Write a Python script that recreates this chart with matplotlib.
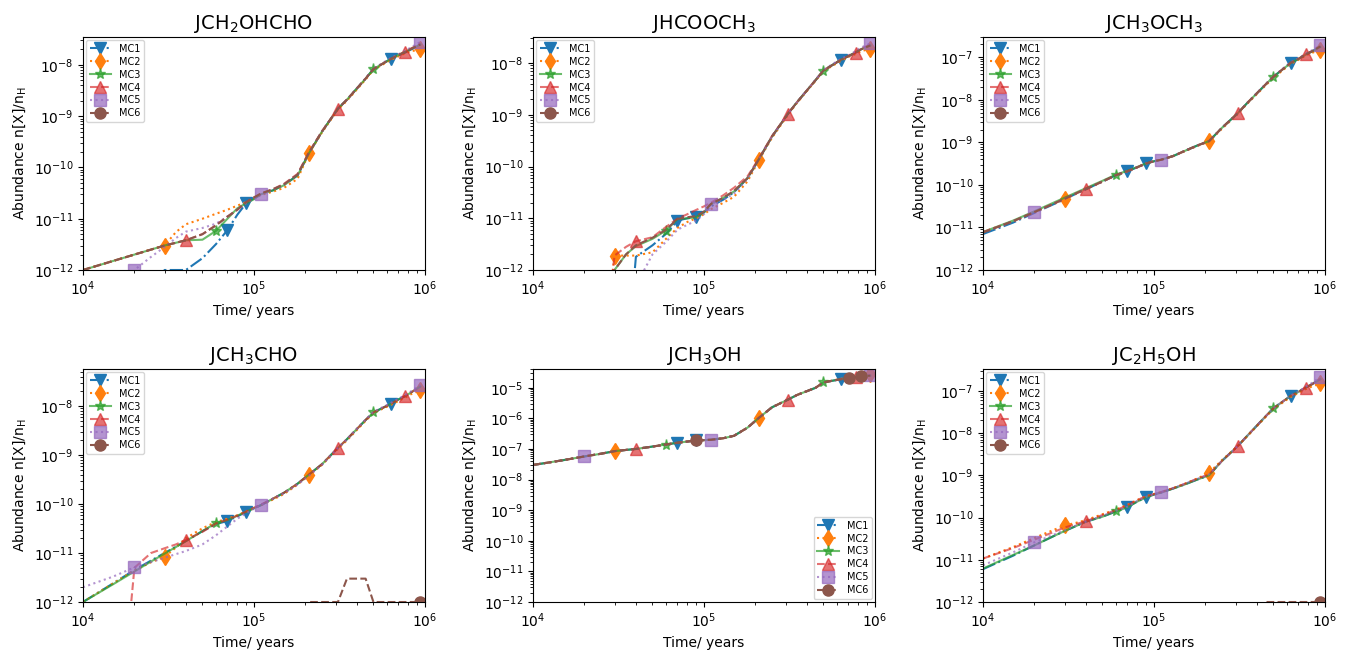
import matplotlib
matplotlib.use("Agg")
import matplotlib.pyplot as plt

# time grid (years)
T = [1.0e4, 1.5e4, 2.0e4, 2.5e4, 3.0e4, 3.5e4, 4.0e4, 5.0e4, 6.0e4, 7.0e4, 8.0e4, 9.0e4,
     1.0e5, 1.1e5, 1.3e5, 1.5e5, 1.8e5, 2.1e5, 2.5e5, 3.1e5, 3.5e5, 4.5e5, 5.0e5, 6.3e5,
     7.1e5, 7.7e5, 8.3e5, 9.4e5]

MODELS = ["MC1", "MC2", "MC3", "MC4", "MC5", "MC6"]

# ---- JCH2OHCHO
CH2OHCHO_MC1 = [1e-14, 1e-14, 1e-14, 1e-14, 1e-12, 1e-12, 1e-12, 1.7e-12, 3.2e-12, 6.0e-12, 1.2e-11, 2.0e-11, 2.5e-11, 3.0e-11, 3.6e-11, 4.6e-11, 7.0e-11, 1.9e-10, 5.0e-10, 1.4e-9, 2.1e-9, 5.4e-9, 8.3e-9, 1.3e-8, 1.55e-8, 1.75e-8, 2.0e-8, 2.4e-8]
CH2OHCHO_MC2 = [1.0e-12, 1.5e-12, 2.0e-12, 2.5e-12, 3.0e-12, 5.5e-12, 7.8e-12, 1.0e-11, 1.25e-11, 1.5e-11, 1.8e-11, 2.1e-11, 2.5e-11, 2.9e-11, 3.4e-11, 4.0e-11, 6.0e-11, 1.9e-10, 4.8e-10, 1.35e-9, 2.0e-9, 5.2e-9, 8.0e-9, 1.25e-8, 1.5e-8, 1.7e-8, 1.85e-8, 2.0e-8]
CH2OHCHO_MC3 = [1.0e-12, 1.5e-12, 2.0e-12, 2.5e-12, 3.0e-12, 3.4e-12, 3.8e-12, 3.9e-12, 5.8e-12, 1.0e-11, 1.6e-11, 2.0e-11, 2.4e-11, 3.0e-11, 3.6e-11, 4.5e-11, 7.0e-11, 1.9e-10, 5.0e-10, 1.4e-9, 2.1e-9, 5.4e-9, 8.3e-9, 1.3e-8, 1.6e-8, 1.8e-8, 2.05e-8, 2.5e-8]
CH2OHCHO_MC4 = [1.0e-12, 1.5e-12, 2.0e-12, 2.5e-12, 3.0e-12, 3.4e-12, 3.8e-12, 5.0e-12, 7.5e-12, 1.1e-11, 1.5e-11, 2.1e-11, 2.6e-11, 3.1e-11, 3.8e-11, 4.8e-11, 7.5e-11, 2.0e-10, 5.1e-10, 1.4e-9, 2.1e-9, 5.4e-9, 8.3e-9, 1.3e-8, 1.6e-8, 1.8e-8, 2.1e-8, 2.6e-8]
CH2OHCHO_MC5 = [1e-14, 1e-14, 1.0e-12, 1.8e-12, 2.8e-12, 4.2e-12, 5.6e-12, 6.6e-12, 8.0e-12, 1.1e-11, 1.5e-11, 2.0e-11, 2.5e-11, 3.0e-11, 3.7e-11, 4.6e-11, 7.2e-11, 1.9e-10, 5.0e-10, 1.4e-9, 2.1e-9, 5.5e-9, 8.5e-9, 1.35e-8, 1.65e-8, 1.9e-8, 2.2e-8, 2.8e-8]
CH2OHCHO_MC6 = [1.0e-12, 1.5e-12, 2.0e-12, 2.5e-12, 3.0e-12, 3.4e-12, 3.8e-12, 5.0e-12, 7.4e-12, 1.1e-11, 1.5e-11, 2.1e-11, 2.6e-11, 3.1e-11, 3.8e-11, 4.7e-11, 7.3e-11, 1.95e-10, 5.0e-10, 1.4e-9, 2.1e-9, 5.4e-9, 8.3e-9, 1.3e-8, 1.6e-8, 1.8e-8, 2.05e-8, 2.5e-8]

# ---- JHCOOCH3
HCOOCH3_MC1 = [1e-14, 1e-14, 1e-14, 1e-14, 1e-14, 1e-14, 1.8e-12, 3.0e-12, 5.0e-12, 9.0e-12, 1.0e-11, 1.05e-11, 1.3e-11, 1.7e-11, 2.3e-11, 3.2e-11, 6.0e-11, 1.4e-10, 3.8e-10, 1.05e-9, 1.75e-9, 4.7e-9, 7.2e-9, 1.15e-8, 1.4e-8, 1.6e-8, 1.85e-8, 2.2e-8]
HCOOCH3_MC2 = [1e-14, 1e-14, 1e-14, 1e-14, 1.9e-12, 1.9e-12, 1.9e-12, 2.2e-12, 4.0e-12, 6.5e-12, 8.5e-12, 1.0e-11, 1.2e-11, 1.5e-11, 2.0e-11, 2.6e-11, 5.2e-11, 1.35e-10, 3.6e-10, 1.0e-9, 1.7e-9, 4.6e-9, 7.0e-9, 1.1e-8, 1.35e-8, 1.5e-8, 1.7e-8, 1.9e-8]
HCOOCH3_MC3 = [1e-14, 1e-14, 1e-14, 1e-14, 1.0e-12, 2.0e-12, 2.9e-12, 4.0e-12, 5.8e-12, 9.6e-12, 1.0e-11, 1.05e-11, 1.3e-11, 1.9e-11, 2.5e-11, 3.3e-11, 6.0e-11, 1.4e-10, 3.8e-10, 1.05e-9, 1.75e-9, 4.7e-9, 7.2e-9, 1.15e-8, 1.4e-8, 1.6e-8, 1.85e-8, 2.2e-8]
HCOOCH3_MC4 = [1e-14, 1e-14, 1e-14, 1e-14, 1.9e-12, 2.8e-12, 3.6e-12, 4.3e-12, 6.8e-12, 9.8e-12, 1.2e-11, 1.45e-11, 1.7e-11, 2.0e-11, 2.8e-11, 3.9e-11, 6.5e-11, 1.45e-10, 3.9e-10, 1.05e-9, 1.75e-9, 4.7e-9, 7.2e-9, 1.15e-8, 1.4e-8, 1.6e-8, 1.9e-8, 2.3e-8]
HCOOCH3_MC5 = [1e-14, 1e-14, 1e-14, 1e-14, 1e-14, 1e-14, 5e-13, 2.0e-12, 3.5e-12, 6.0e-12, 7.5e-12, 9.0e-12, 1.2e-11, 1.9e-11, 2.3e-11, 3.0e-11, 5.8e-11, 1.4e-10, 3.8e-10, 1.05e-9, 1.75e-9, 4.8e-9, 7.4e-9, 1.2e-8, 1.45e-8, 1.7e-8, 2.0e-8, 2.4e-8]
HCOOCH3_MC6 = [1e-14, 1e-14, 1e-14, 1e-14, 1.0e-12, 2.0e-12, 3.0e-12, 4.2e-12, 6.0e-12, 9.7e-12, 1.05e-11, 1.1e-11, 1.35e-11, 1.9e-11, 2.5e-11, 3.4e-11, 6.0e-11, 1.4e-10, 3.8e-10, 1.05e-9, 1.75e-9, 4.7e-9, 7.2e-9, 1.15e-8, 1.4e-8, 1.6e-8, 1.85e-8, 2.2e-8]

# ---- JCH3OCH3
CH3OCH3_MC1 = [7.0e-12, 1.3e-11, 2.2e-11, 3.3e-11, 4.6e-11, 6.2e-11, 7.9e-11, 1.2e-10, 1.7e-10, 2.1e-10, 2.6e-10, 3.2e-10, 3.6e-10, 3.9e-10, 4.8e-10, 6.2e-10, 8.5e-10, 1.07e-9, 2.2e-9, 4.9e-9, 8.3e-9, 2.3e-8, 3.5e-8, 7.4e-8, 9.5e-8, 1.17e-7, 1.35e-7, 1.75e-7]
CH3OCH3_MC2 = [7.8e-12, 1.4e-11, 2.3e-11, 3.4e-11, 4.6e-11, 6.2e-11, 7.9e-11, 1.2e-10, 1.7e-10, 2.1e-10, 2.6e-10, 3.2e-10, 3.6e-10, 3.9e-10, 4.8e-10, 6.1e-10, 8.3e-10, 1.05e-9, 2.1e-9, 4.7e-9, 8.0e-9, 2.2e-8, 3.3e-8, 7.0e-8, 9.0e-8, 1.1e-7, 1.25e-7, 1.5e-7]
CH3OCH3_MC3 = [7.8e-12, 1.45e-11, 2.4e-11, 3.6e-11, 5.0e-11, 6.6e-11, 8.4e-11, 1.25e-10, 1.75e-10, 2.15e-10, 2.65e-10, 3.2e-10, 3.6e-10, 3.9e-10, 4.8e-10, 6.2e-10, 8.5e-10, 1.07e-9, 2.2e-9, 4.9e-9, 8.3e-9, 2.3e-8, 3.5e-8, 7.3e-8, 9.4e-8, 1.15e-7, 1.33e-7, 1.75e-7]
CH3OCH3_MC4 = [7.8e-12, 1.4e-11, 2.3e-11, 3.4e-11, 4.7e-11, 6.3e-11, 8.0e-11, 1.2e-10, 1.7e-10, 2.1e-10, 2.6e-10, 3.2e-10, 3.6e-10, 3.9e-10, 4.8e-10, 6.2e-10, 8.5e-10, 1.07e-9, 2.2e-9, 4.9e-9, 8.3e-9, 2.3e-8, 3.5e-8, 7.4e-8, 9.5e-8, 1.17e-7, 1.35e-7, 1.8e-7]
CH3OCH3_MC5 = [7.6e-12, 1.4e-11, 2.3e-11, 3.4e-11, 4.7e-11, 6.3e-11, 8.0e-11, 1.2e-10, 1.7e-10, 2.1e-10, 2.6e-10, 3.2e-10, 3.6e-10, 3.9e-10, 4.8e-10, 6.2e-10, 8.5e-10, 1.07e-9, 2.2e-9, 4.9e-9, 8.4e-9, 2.35e-8, 3.6e-8, 7.6e-8, 9.8e-8, 1.2e-7, 1.42e-7, 1.9e-7]
CH3OCH3_MC6 = [7.6e-12, 1.4e-11, 2.3e-11, 3.4e-11, 4.7e-11, 6.3e-11, 8.0e-11, 1.2e-10, 1.7e-10, 2.1e-10, 2.6e-10, 3.2e-10, 3.6e-10, 3.9e-10, 4.8e-10, 6.2e-10, 8.5e-10, 1.07e-9, 2.2e-9, 4.9e-9, 8.3e-9, 2.3e-8, 3.5e-8, 7.4e-8, 9.5e-8, 1.17e-7, 1.35e-7, 1.8e-7]

# ---- JCH3CHO
CH3CHO_MC1 = [1.0e-12, 2.4e-12, 4.5e-12, 7.0e-12, 1.0e-11, 1.35e-11, 1.75e-11, 2.8e-11, 3.9e-11, 4.5e-11, 5.6e-11, 6.9e-11, 8.2e-11, 9.5e-11, 1.3e-10, 1.7e-10, 2.6e-10, 4.0e-10, 6.5e-10, 1.4e-9, 2.1e-9, 5.2e-9, 7.4e-9, 1.1e-8, 1.4e-8, 1.6e-8, 1.9e-8, 2.5e-8]
CH3CHO_MC2 = [1.0e-12, 2.4e-12, 4.4e-12, 6.5e-12, 8.3e-12, 1.3e-11, 2.0e-11, 3.2e-11, 4.3e-11, 5.0e-11, 5.9e-11, 7.0e-11, 8.2e-11, 9.4e-11, 1.25e-10, 1.6e-10, 2.5e-10, 3.9e-10, 6.3e-10, 1.35e-9, 2.0e-9, 5.0e-9, 7.2e-9, 1.05e-8, 1.3e-8, 1.5e-8, 1.75e-8, 2.1e-8]
CH3CHO_MC3 = [1.0e-12, 2.3e-12, 4.2e-12, 6.7e-12, 9.7e-12, 1.33e-11, 1.75e-11, 2.8e-11, 4.1e-11, 4.7e-11, 5.8e-11, 6.9e-11, 8.2e-11, 9.5e-11, 1.3e-10, 1.7e-10, 2.6e-10, 4.0e-10, 6.5e-10, 1.4e-9, 2.1e-9, 5.2e-9, 7.4e-9, 1.1e-8, 1.4e-8, 1.6e-8, 1.9e-8, 2.5e-8]
CH3CHO_MC4 = [1e-16, 1e-16, 5.0e-12, 1.0e-11, 1.25e-11, 1.5e-11, 1.86e-11, 2.7e-11, 4.0e-11, 4.8e-11, 5.8e-11, 7.0e-11, 8.4e-11, 9.8e-11, 1.3e-10, 1.7e-10, 2.6e-10, 4.0e-10, 6.5e-10, 1.4e-9, 2.1e-9, 5.2e-9, 7.4e-9, 1.1e-8, 1.4e-8, 1.6e-8, 1.9e-8, 2.5e-8]
CH3CHO_MC5 = [2.0e-12, 3.3e-12, 5.1e-12, 6.5e-12, 8.0e-12, 9.5e-12, 1.1e-11, 1.5e-11, 2.3e-11, 3.5e-11, 5.0e-11, 6.5e-11, 8.0e-11, 9.5e-11, 1.3e-10, 1.65e-10, 2.5e-10, 3.8e-10, 6.3e-10, 1.4e-9, 2.1e-9, 5.3e-9, 7.6e-9, 1.15e-8, 1.45e-8, 1.7e-8, 2.0e-8, 2.7e-8]
CH3CHO_MC6 = [1e-16, 1e-16, 1e-16, 1e-16, 1e-16, 1e-16, 1e-16, 1e-16, 1e-16, 1e-16, 1e-16, 1e-16, 1e-16, 1e-16, 1e-16, 1e-16, 1e-16, 1e-12, 1e-12, 1e-12, 3e-12, 3e-12, 1e-12, 1e-12, 1e-12, 1e-12, 1e-12, 1e-12]

# ---- JCH3OH
CH3OH_MC1 = [3.0e-8, 4.3e-8, 5.7e-8, 7.0e-8, 8.5e-8, 9.3e-8, 1.0e-7, 1.2e-7, 1.4e-7, 1.6e-7, 1.75e-7, 1.9e-7, 1.95e-7, 2.0e-7, 2.25e-7, 2.7e-7, 5.0e-7, 1.05e-6, 2.3e-6, 4.1e-6, 5.8e-6, 1.0e-5, 1.5e-5, 1.9e-5, 2.1e-5, 2.2e-5, 2.35e-5, 2.5e-5]
CH3OH_MC2 = [3.0e-8, 4.3e-8, 5.7e-8, 7.0e-8, 8.5e-8, 9.3e-8, 1.0e-7, 1.2e-7, 1.4e-7, 1.6e-7, 1.75e-7, 1.9e-7, 1.95e-7, 2.0e-7, 2.25e-7, 2.7e-7, 5.0e-7, 1.05e-6, 2.3e-6, 4.1e-6, 5.8e-6, 1.0e-5, 1.5e-5, 1.95e-5, 2.2e-5, 2.35e-5, 2.55e-5, 2.9e-5]
CH3OH_MC3 = [3.0e-8, 4.3e-8, 5.7e-8, 7.0e-8, 8.5e-8, 9.3e-8, 1.0e-7, 1.2e-7, 1.4e-7, 1.6e-7, 1.75e-7, 1.9e-7, 1.95e-7, 2.0e-7, 2.25e-7, 2.7e-7, 5.0e-7, 1.05e-6, 2.3e-6, 4.1e-6, 5.8e-6, 1.0e-5, 1.5e-5, 1.9e-5, 2.1e-5, 2.2e-5, 2.35e-5, 2.5e-5]
CH3OH_MC4 = [3.0e-8, 4.3e-8, 5.7e-8, 7.0e-8, 8.5e-8, 9.3e-8, 1.0e-7, 1.2e-7, 1.4e-7, 1.6e-7, 1.75e-7, 1.9e-7, 1.95e-7, 2.0e-7, 2.25e-7, 2.7e-7, 5.0e-7, 1.05e-6, 2.3e-6, 4.1e-6, 5.8e-6, 1.0e-5, 1.5e-5, 1.9e-5, 2.1e-5, 2.2e-5, 2.35e-5, 2.5e-5]
CH3OH_MC5 = [3.0e-8, 4.3e-8, 5.7e-8, 7.0e-8, 8.5e-8, 9.3e-8, 1.0e-7, 1.2e-7, 1.4e-7, 1.6e-7, 1.75e-7, 1.9e-7, 1.95e-7, 2.0e-7, 2.25e-7, 2.7e-7, 5.0e-7, 1.05e-6, 2.3e-6, 4.1e-6, 5.8e-6, 1.0e-5, 1.5e-5, 1.9e-5, 2.15e-5, 2.25e-5, 2.4e-5, 2.6e-5]
CH3OH_MC6 = [3.0e-8, 4.3e-8, 5.7e-8, 7.0e-8, 8.5e-8, 9.3e-8, 1.0e-7, 1.2e-7, 1.4e-7, 1.6e-7, 1.75e-7, 1.9e-7, 1.95e-7, 2.0e-7, 2.25e-7, 2.7e-7, 5.0e-7, 1.05e-6, 2.3e-6, 4.1e-6, 5.8e-6, 1.0e-5, 1.5e-5, 1.9e-5, 2.1e-5, 2.2e-5, 2.35e-5, 2.5e-5]

# ---- JC2H5OH
C2H5OH_MC1 = [6.0e-12, 1.25e-11, 2.2e-11, 3.4e-11, 4.8e-11, 6.3e-11, 8.0e-11, 1.05e-10, 1.4e-10, 1.8e-10, 2.4e-10, 3.1e-10, 3.5e-10, 3.9e-10, 4.9e-10, 6.0e-10, 8.0e-10, 1.0e-9, 2.2e-9, 5.0e-9, 8.5e-9, 2.5e-8, 3.9e-8, 7.6e-8, 9.8e-8, 1.2e-7, 1.4e-7, 1.9e-7]
C2H5OH_MC2 = [1.07e-11, 2.0e-11, 3.3e-11, 4.8e-11, 6.5e-11, 7.5e-11, 8.7e-11, 1.2e-10, 1.55e-10, 2.0e-10, 2.6e-10, 3.2e-10, 3.6e-10, 4.0e-10, 5.0e-10, 6.2e-10, 8.5e-10, 1.15e-9, 2.3e-9, 5.0e-9, 8.3e-9, 2.4e-8, 3.7e-8, 7.2e-8, 9.2e-8, 1.1e-7, 1.25e-7, 1.5e-7]
C2H5OH_MC3 = [6.2e-12, 1.3e-11, 2.2e-11, 3.4e-11, 4.8e-11, 6.3e-11, 8.0e-11, 1.05e-10, 1.4e-10, 1.75e-10, 2.4e-10, 3.0e-10, 3.5e-10, 3.9e-10, 4.9e-10, 6.0e-10, 8.0e-10, 1.0e-9, 2.2e-9, 5.0e-9, 8.5e-9, 2.5e-8, 3.9e-8, 7.6e-8, 9.8e-8, 1.2e-7, 1.4e-7, 1.9e-7]
C2H5OH_MC4 = [1.07e-11, 1.9e-11, 3.0e-11, 4.3e-11, 5.8e-11, 7.0e-11, 8.2e-11, 1.15e-10, 1.5e-10, 1.95e-10, 2.6e-10, 3.2e-10, 3.6e-10, 4.0e-10, 5.0e-10, 6.2e-10, 8.4e-10, 1.05e-9, 2.2e-9, 5.0e-9, 8.5e-9, 2.5e-8, 3.9e-8, 7.6e-8, 9.8e-8, 1.2e-7, 1.4e-7, 1.9e-7]
C2H5OH_MC5 = [7.4e-12, 1.5e-11, 2.6e-11, 3.7e-11, 5.0e-11, 6.5e-11, 8.0e-11, 1.1e-10, 1.45e-10, 1.8e-10, 2.5e-10, 3.1e-10, 3.6e-10, 4.0e-10, 5.0e-10, 6.2e-10, 8.3e-10, 1.05e-9, 2.2e-9, 5.0e-9, 8.5e-9, 2.5e-8, 3.9e-8, 7.7e-8, 1.0e-7, 1.25e-7, 1.5e-7, 2.1e-7]
C2H5OH_MC6 = [1e-16, 1e-16, 1e-16, 1e-16, 1e-16, 1e-16, 1e-16, 1e-16, 1e-16, 1e-16, 1e-16, 1e-16, 1e-16, 1e-16, 1e-16, 1e-16, 1e-16, 1e-16, 1e-16, 1e-16, 1e-16, 1e-12, 1e-12, 1e-12, 1e-12, 1e-12, 1e-12, 1e-12]

TITLES = ["JCH$_2$OHCHO", "JHCOOCH$_3$", "JCH$_3$OCH$_3$",
          "JCH$_3$CHO", "JCH$_3$OH", "JC$_2$H$_5$OH"]
SERIES = [
    [CH2OHCHO_MC1, CH2OHCHO_MC2, CH2OHCHO_MC3, CH2OHCHO_MC4, CH2OHCHO_MC5, CH2OHCHO_MC6],
    [HCOOCH3_MC1, HCOOCH3_MC2, HCOOCH3_MC3, HCOOCH3_MC4, HCOOCH3_MC5, HCOOCH3_MC6],
    [CH3OCH3_MC1, CH3OCH3_MC2, CH3OCH3_MC3, CH3OCH3_MC4, CH3OCH3_MC5, CH3OCH3_MC6],
    [CH3CHO_MC1, CH3CHO_MC2, CH3CHO_MC3, CH3CHO_MC4, CH3CHO_MC5, CH3CHO_MC6],
    [CH3OH_MC1, CH3OH_MC2, CH3OH_MC3, CH3OH_MC4, CH3OH_MC5, CH3OH_MC6],
    [C2H5OH_MC1, C2H5OH_MC2, C2H5OH_MC3, C2H5OH_MC4, C2H5OH_MC5, C2H5OH_MC6],
]
YTOP = [3.5e-8, 3.2e-8, 3.0e-7, 5.7e-8, 4.1e-5, 3.3e-7]

# styles
colors = ["#1f77b4", "#ff7f0e", "#2ca02c", "#d62728", "#9467bd", "#8c564b"]
styles = ["-.", ":", "-", "--", ":", "--"]
markers = ["v", "d", "*", "^", "s", "o"]
alphas = [1.0, 1.0, 0.7, 0.65, 0.7, 1.0]
mark_idx = [[9, 11, 23], [4, 17, 27], [8, 22], [6, 19, 25], [2, 13, 27]]
mc6_marks = [[], [], [], [27], [11, 24, 26], [27]]

fig, axes = plt.subplots(2, 3, figsize=(13.51, 6.55), dpi=100)
plt.subplots_adjust(left=0.0614, right=0.9807, top=0.9435, bottom=0.0809,
                    wspace=0.316, hspace=0.425)

for k, ax in enumerate(axes.flat):
    for i, name in enumerate(MODELS):
        me = mark_idx[i] if i < 5 else mc6_marks[k]
        ax.plot(T, SERIES[k][i], color=colors[i], linestyle=styles[i],
                marker=markers[i], markevery=me, markersize=8,
                alpha=alphas[i], lw=1.5, label=name)
    ax.set_xscale("log")
    ax.set_yscale("log")
    ax.set_xlim(1e4, 1e6)
    ax.set_ylim(1e-12, YTOP[k])
    ax.set_title(TITLES[k], fontsize=14)
    ax.set_xlabel("Time/ years")
    ax.set_ylabel(r"Abundance n[X]/n$_\mathrm{H}$")
    loc = "lower right" if k == 4 else "upper left"
    ax.legend(loc=loc, fontsize=7, handlelength=2.2, handletextpad=0.8,
              labelspacing=0.3, borderaxespad=0.3)

plt.savefig("out.png", dpi=100)
